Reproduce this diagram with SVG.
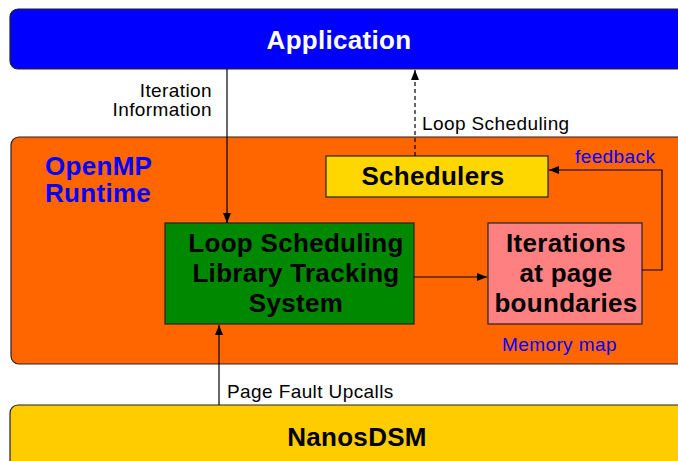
<svg xmlns="http://www.w3.org/2000/svg" width="678" height="461" viewBox="0 0 678 461">
  <defs>
    <marker id="arr" viewBox="0 0 10 8" refX="10" refY="4" markerWidth="10" markerHeight="8" markerUnits="userSpaceOnUse" orient="auto">
      <path d="M0,0 L10,4 L0,8 Z" fill="#000"/>
    </marker>
  </defs>
  <style>
    .box { stroke: #222; stroke-width: 1.2; }
    .big { font-family: "Liberation Sans", Arial, sans-serif; font-weight: bold; font-size: 26px; letter-spacing: 0.3px; text-anchor: middle; }
    .lbl { font-family: "Liberation Sans", Arial, sans-serif; font-size: 19px; letter-spacing: 0.4px; fill: #000; }
    .blue { font-family: "Liberation Sans", Arial, sans-serif; font-size: 19px; letter-spacing: 0.4px; fill: #0000ff; }
    .wire { fill: none; stroke: #000; stroke-width: 1.2; }
  </style>
  <rect width="678" height="461" fill="#fff"/>

  <g id="application">
    <rect class="box" x="10" y="9" width="690" height="60" rx="8" fill="#0000ff"/>
    <text class="big" x="339" y="49" fill="#fff">Application</text>
  </g>

  <g id="openmp-runtime">
    <rect class="box" x="11" y="137" width="690" height="227" rx="8" fill="#ff6600"/>
    <text x="45" y="175" font-family="Liberation Sans, Arial, sans-serif" font-weight="bold" font-size="26" letter-spacing="0.3" fill="#0000ff">OpenMP</text>
    <text x="45" y="202" font-family="Liberation Sans, Arial, sans-serif" font-weight="bold" font-size="26" letter-spacing="0.3" fill="#0000ff">Runtime</text>
  </g>

  <g id="schedulers">
    <rect class="box" x="326" y="156" width="222" height="41" fill="#ffd700"/>
    <text class="big" x="433" y="185">Schedulers</text>
  </g>

  <g id="tracking-system">
    <rect class="box" x="165" y="223" width="249" height="101" fill="#008800"/>
    <text class="big" x="296" y="252">Loop Scheduling</text>
    <text class="big" x="296" y="282">Library Tracking</text>
    <text class="big" x="296" y="312">System</text>
  </g>

  <g id="page-iterations">
    <rect class="box" x="488" y="223" width="154" height="101" fill="#ff8080"/>
    <text class="big" x="566" y="252">Iterations</text>
    <text class="big" x="566" y="282">at page</text>
    <text class="big" x="566" y="312">boundaries</text>
    <text class="blue" x="502" y="351">Memory map</text>
  </g>

  <g id="nanosdsm">
    <rect class="box" x="10" y="405" width="690" height="70" rx="8" fill="#ffcc00"/>
    <text class="big" x="357" y="446">NanosDSM</text>
  </g>

  <g id="connectors">
    <line class="wire" x1="227" y1="69" x2="227" y2="223" marker-end="url(#arr)"/>
    <line class="wire" x1="415" y1="156" x2="415" y2="70" stroke-dasharray="4,3" marker-end="url(#arr)"/>
    <line class="wire" x1="414" y1="277" x2="487" y2="277" marker-end="url(#arr)"/>
    <polyline class="wire" points="642,270 662,270 662,170 549,170" marker-end="url(#arr)"/>
    <line class="wire" x1="219" y1="405" x2="219" y2="325" marker-end="url(#arr)"/>
    <text class="lbl" x="212" y="97" text-anchor="end">Iteration</text>
    <text class="lbl" x="212" y="116" text-anchor="end">Information</text>
    <text class="lbl" x="422" y="130">Loop Scheduling</text>
    <text class="blue" x="575" y="163">feedback</text>
    <text class="lbl" x="227" y="398">Page Fault Upcalls</text>
  </g>
</svg>
